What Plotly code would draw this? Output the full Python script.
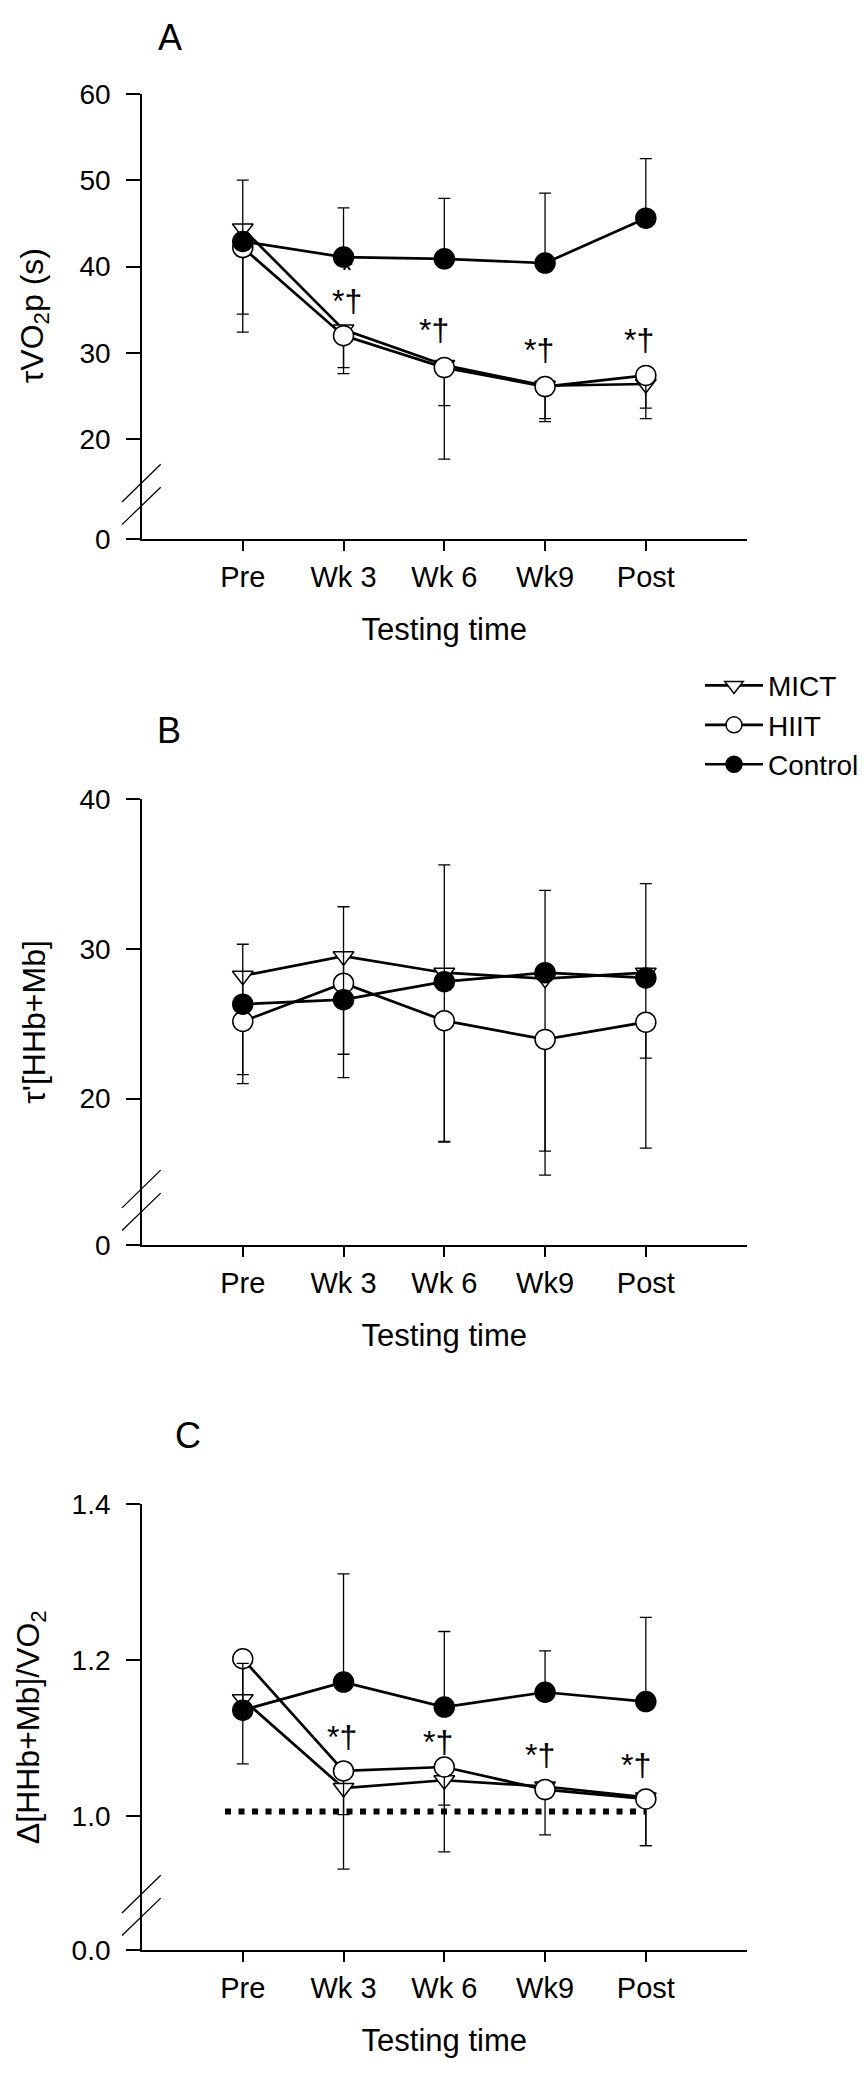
import plotly.graph_objects as go
import numpy as np

# ---------------- data ----------------
time_labels = ["Pre", "Wk 3", "Wk 6", "Wk9", "Post"]
time_pos = [0, 1, 2, 3, 4]

# Panel A: tau VO2p (s)
a_mict = [44.4, 32.7, 28.6, 26.2, 26.4]
a_hiit = [42.2, 32.0, 28.3, 26.1, 27.4]
a_ctrl = [42.9, 41.1, 40.9, 40.4, 45.6]
a_mict_sd = [12.0, 5.1, 10.9, 4.15, 4.0]
a_hiit_sd = [7.7, 3.7, 4.4, 3.7, 3.8]
a_ctrl_sd = [7.1, 5.7, 7.0, 8.1, 6.9]

# Panel B: tau' [HHb+Mb]
b_mict = [28.2, 29.5, 28.4, 28.0, 28.4]
b_hiit = [25.15, 27.7, 25.2, 23.95, 25.1]
b_ctrl = [26.3, 26.6, 27.8, 28.4, 28.05]
b_mict_sd = [7.2, 8.1, 11.3, 13.1, 11.7]
b_hiit_sd = [3.55, 4.74, 8.05, 7.45, 2.4]
b_ctrl_sd = [4.0, 6.2, 7.8, 5.5, 6.3]

# Panel C: delta [HHb+Mb] / VO2
c_mict = [1.150, 1.036, 1.046, 1.038, 1.024]
c_hiit = [1.202, 1.058, 1.063, 1.034, 1.022]
c_ctrl = [1.136, 1.172, 1.140, 1.159, 1.147]
c_mict_sd = [0.020, 0.104, 0.092, 0.062, 0.062]
c_hiit_sd = [0.135, 0.056, 0.049, 0.010, 0.060]
c_ctrl_sd = [0.060, 0.139, 0.097, 0.053, 0.108]
c_ref_level = 1.006

# significance markers (x position, y value)
a_sig_x = [1.03, 1.90, 2.94, 3.93]
a_sig_y = [36.05, 32.6, 30.35, 31.5]
a_star_x, a_star_y = 1.03, 39.6
c_sig_x = [0.98, 1.94, 2.95, 3.90]
c_sig_y = [1.101, 1.095, 1.078, 1.065]

# y-axis tick values (break: "0" drawn below a gap)
a_yticks = [20, 30, 40, 50, 60]
b_yticks = [20, 30, 40]
c_yticks = [1.0, 1.2, 1.4]

# ---------------- geometry ----------------
W, H = 867, 2083
X_LEFT, X_RIGHT = 142.0, 746.6
FONT = "Liberation Sans, Arial, sans-serif"

panels = [
    dict(top=80.0, bottom=531.7, top_val=60, zero=8.48,
         ticks=a_yticks, zlabel="0", fmt="{:d}"),
    dict(top=795.7, bottom=1248.3, top_val=40, zero=10.25,
         ticks=b_yticks, zlabel="0", fmt="{:d}"),
    dict(top=1512.0, bottom=1964.0, top_val=1.4, zero=0.8284,
         ticks=c_yticks, zlabel="0.0", fmt="{:.1f}"),
]

def pyp(px):
    return 1 - px / H

series = [
    [(a_mict, a_mict_sd), (a_hiit, a_hiit_sd), (a_ctrl, a_ctrl_sd)],
    [(b_mict, b_mict_sd), (b_hiit, b_hiit_sd), (b_ctrl, b_ctrl_sd)],
    [(c_mict, c_mict_sd), (c_hiit, c_hiit_sd), (c_ctrl, c_ctrl_sd)],
]
names = ["MICT", "HIIT", "Control"]
symbols = ["triangle-down", "circle", "circle"]
fills = ["white", "white", "black"]
sizes = [18, 20, 20]
err_up = [False, False, True]

fig = go.Figure()

for p, panel_series in enumerate(series):
    xa = "x" if p == 0 else f"x{p+1}"
    ya = "y" if p == 0 else f"y{p+1}"
    for s, (vals, sd) in enumerate(panel_series):
        sd = np.array(sd)
        zeros = np.zeros_like(sd)
        fig.add_trace(go.Scatter(
            x=time_pos, y=vals, xaxis=xa, yaxis=ya,
            mode="lines+markers", name=names[s],
            legendgroup=names[s], showlegend=(p == 0),
            line=dict(color="black", width=2.7),
            marker=dict(symbol=symbols[s], size=sizes[s], color=fills[s],
                        line=dict(color="black", width=1.5)),
            error_y=dict(type="data", symmetric=False,
                         array=sd if err_up[s] else zeros,
                         arrayminus=zeros if err_up[s] else sd,
                         color="black", thickness=1.3, width=6),
        ))

layout = dict(
    width=W, height=H, margin=dict(l=0, r=0, t=0, b=0),
    paper_bgcolor="white", plot_bgcolor="white",
    font=dict(family=FONT, color="black", size=27),
    showlegend=True,
    legend=dict(x=(700.0) / W, xanchor="left", y=pyp(721.0), yanchor="middle",
                font=dict(size=28, family=FONT), itemwidth=58,
                bgcolor="rgba(0,0,0,0)", tracegroupgap=0),
)

shapes = []
annotations = []
for p, g in enumerate(panels):
    xkey = "xaxis" if p == 0 else f"xaxis{p+1}"
    ykey = "yaxis" if p == 0 else f"yaxis{p+1}"
    yid = "y" if p == 0 else f"y{p+1}"
    xid = "x" if p == 0 else f"x{p+1}"
    layout[xkey] = dict(
        domain=[X_LEFT / W, X_RIGHT / W], range=[-1, 5], anchor=yid,
        showline=True, linecolor="black", linewidth=1.7,
        ticks="outside", ticklen=10, tickwidth=1.7, tickcolor="black",
        tickvals=time_pos, ticktext=time_labels,
        tickfont=dict(size=29, family=FONT), ticklabelstandoff=2,
        showgrid=False, zeroline=False,
        title=dict(text="Testing time", font=dict(size=31, family=FONT), standoff=26),
    )
    tv = [g["zero"]] + list(g["ticks"])
    tt = [g["zlabel"]] + [g["fmt"].format(v) for v in g["ticks"]]
    layout[ykey] = dict(
        domain=[pyp(g["bottom"]), pyp(g["top"])], range=[g["zero"], g["top_val"]],
        anchor=xid,
        showline=True, linecolor="black", linewidth=1.7,
        ticks="outside", ticklen=14, tickwidth=1.7, tickcolor="black",
        tickvals=tv, ticktext=tt, tickfont=dict(size=28, family=FONT),
        ticklabelstandoff=10, showgrid=False, zeroline=False,
    )
    # axis break marks (two parallel slashes)
    for (dy0, dy1) in [(37.4, 75.7), (14.4, 52.4)]:
        shapes.append(dict(type="line", xref="paper", yref="paper",
                           x0=(X_LEFT - 20) / W, x1=(X_LEFT + 18.7) / W,
                           y0=pyp(g["bottom"] - dy0), y1=pyp(g["bottom"] - dy1),
                           line=dict(color="black", width=1.3)))

# dotted reference line in panel C
shapes.append(dict(type="line", xref="x3", yref="y3", x0=-0.176, x1=4.0,
                   y0=c_ref_level, y1=c_ref_level, layer="below",
                   line=dict(color="black", width=6, dash="6px,7.5px")))

# panel letters
for letter, (px, pyy) in zip(["A", "B", "C"], [(170, 22.7), (169, 726), (188, 1442)]):
    annotations.append(dict(text=letter, x=px / W, y=pyp(pyy), xref="paper", yref="paper",
                            showarrow=False, font=dict(size=36, family=FONT),
                            xanchor="center", yanchor="middle"))

# y-axis titles
ytitles = [
    ("τVO<sub>2</sub>p (s)", 34, (80.0 + 531.7) / 2),
    ("τ'[HHb+Mb]", 34, (795.7 + 1248.3) / 2),
    ("Δ[HHb+Mb]/VO<sub>2</sub>", 30, (1512.0 + 1964.0) / 2),
]
for txt, px, pyy in ytitles:
    annotations.append(dict(text=txt, x=px / W, y=pyp(pyy), xref="paper", yref="paper",
                            showarrow=False, textangle=-90, font=dict(size=32, family=FONT),
                            xanchor="center", yanchor="middle"))

# significance symbols
annotations.append(dict(text="*", x=a_star_x, y=a_star_y, xref="x", yref="y",
                        showarrow=False, font=dict(size=30, family=FONT)))
for xx, yy in zip(a_sig_x, a_sig_y):
    annotations.append(dict(text="*†", x=xx, y=yy, xref="x", yref="y",
                            showarrow=False, font=dict(size=32, family=FONT)))
for xx, yy in zip(c_sig_x, c_sig_y):
    annotations.append(dict(text="*†", x=xx, y=yy, xref="x3", yref="y3",
                            showarrow=False, font=dict(size=32, family=FONT)))

layout["shapes"] = shapes
layout["annotations"] = annotations
fig.update_layout(**layout)

fig.write_html("out.html")
